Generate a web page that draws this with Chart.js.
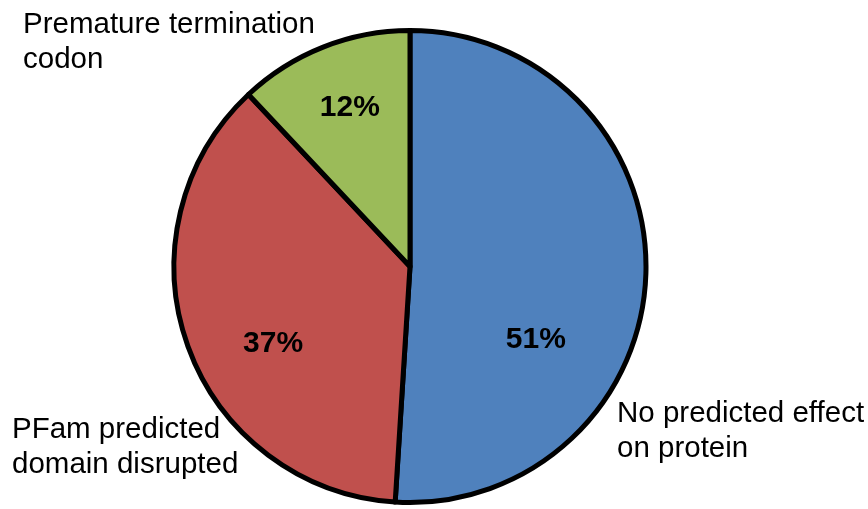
<!DOCTYPE html>
<html>
<head>
<meta charset="utf-8">
<title>Predicted effect of variants</title>
<script src="https://cdn.jsdelivr.net/npm/chart.js@4.4.1/dist/chart.umd.min.js"></script>
<style>
  html, body { margin: 0; padding: 0; background: #ffffff; }
  #wrap { position: relative; width: 868px; height: 509px; }
</style>
</head>
<body>
<div id="wrap"><canvas id="pie" width="868" height="509"></canvas></div>
<script>
// Share of variants by predicted effect (percent)
const categories = [
  'No predicted effect on protein',
  'PFam predicted domain disrupted',
  'Premature termination codon'
];
const shares = [51, 37, 12];
const sliceColors = ['#4F81BD', '#C0504D', '#9BBB59'];

// Category captions, broken over two lines as drawn beside the pie
const captionLines = [
  ['No predicted effect', 'on protein'],
  ['PFam predicted', 'domain disrupted'],
  ['Premature termination', 'codon']
];

// Where each caption sits (left edge, first baseline)
const captionPos = [
  { x: 617, y: 422 },
  { x: 12, y: 438 },
  { x: 23, y: 33 }
];

// Percent label placement inside each slice:
// t = fraction along the slice's sweep, r = fraction of the radius
const pctAnchor = [
  { t: 0.652, r: 0.614 },
  { t: 0.429, r: 0.665 },
  { t: 0.523, r: 0.725 }
];

const sliceLabels = {
  id: 'sliceLabels',
  afterDatasetsDraw(chart) {
    const ctx = chart.ctx;
    const meta = chart.getDatasetMeta(0);
    const data = chart.data.datasets[0].data;
    ctx.save();
    ctx.fillStyle = '#000000';

    // bold percentages inside the slices
    ctx.font = 'bold 30px "Liberation Sans", Arial, sans-serif';
    ctx.textAlign = 'center';
    ctx.textBaseline = 'middle';
    meta.data.forEach((arc, i) => {
      const p = arc.getProps(['x', 'y', 'startAngle', 'endAngle', 'outerRadius'], true);
      const a = p.startAngle + (p.endAngle - p.startAngle) * pctAnchor[i].t;
      const rr = p.outerRadius * pctAnchor[i].r;
      ctx.fillText(data[i] + '%', p.x + Math.cos(a) * rr, p.y + Math.sin(a) * rr + 1);
    });

    // category captions outside the pie
    ctx.font = '29.5px "Liberation Sans", Arial, sans-serif';
    ctx.textAlign = 'left';
    ctx.textBaseline = 'alphabetic';
    captionLines.forEach((lines, i) => {
      lines.forEach((line, j) => {
        ctx.fillText(line, captionPos[i].x, captionPos[i].y + j * 35);
      });
    });
    ctx.restore();
  }
};

new Chart(document.getElementById('pie'), {
  type: 'pie',
  data: {
    labels: categories,
    datasets: [{
      data: shares,
      backgroundColor: sliceColors,
      borderColor: '#000000',
      borderWidth: 5,
      borderJoinStyle: 'round'
    }]
  },
  options: {
    responsive: false,
    animation: false,
    radius: 236,
    rotation: 0,
    layout: { padding: { top: 24, right: 48, bottom: 0, left: 0 } },
    plugins: {
      legend: { display: false },
      tooltip: { enabled: false }
    }
  },
  plugins: [sliceLabels]
});
</script>
</body>
</html>
